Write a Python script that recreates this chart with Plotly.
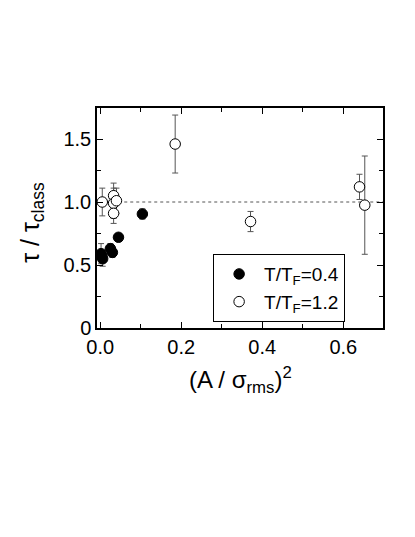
import plotly.graph_objects as go

# T/T_F = 0.4 (filled)
x_cold = [0.002, 0.006, 0.004, 0.025, 0.030, 0.045, 0.104]
y_cold = [0.59, 0.55, 0.57, 0.63, 0.60, 0.72, 0.905]
e_cold = [0.08, 0.06, 0.05, 0.04, 0.04, 0.03, 0.04]

# T/T_F = 1.2 (open)
x_hot = [0.005, 0.033, 0.033, 0.033, 0.040, 0.185, 0.371, 0.640, 0.653]
y_hot = [1.0, 1.05, 0.99, 0.91, 1.01, 1.46, 0.845, 1.12, 0.975]
e_hot = [0.11, 0.10, 0.12, 0.08, 0.10, 0.23, 0.08, 0.10, 0.39]

FONT = "Liberation Sans"

fig = go.Figure()

fig.add_shape(type="line", x0=0, x1=0.7, y0=1.0, y1=1.0, xref="x", yref="y",
              line=dict(color="#555", width=1, dash="dot"), layer="below")

err_style = dict(type="data", visible=True, color="#555", thickness=1, width=3)

fig.add_trace(go.Scatter(
    x=x_hot, y=y_hot, mode="markers", name="T/T<sub>F</sub>=1.2",
    error_y=dict(array=e_hot, **err_style),
    marker=dict(symbol="circle", size=10.5, color="white",
                line=dict(color="black", width=1))))

fig.add_trace(go.Scatter(
    x=x_cold, y=y_cold, mode="markers", name="T/T<sub>F</sub>=0.4",
    error_y=dict(array=e_cold, **err_style),
    marker=dict(symbol="circle", size=10.5, color="black",
                line=dict(color="black", width=1))))

axis_common = dict(showline=True, linecolor="black", linewidth=1.5,
                   ticks="inside", ticklen=6, tickwidth=1, tickcolor="black",
                   mirror="allticks", showgrid=False, zeroline=False,
                   tickfont=dict(family=FONT, size=20, color="black"))

fig.update_xaxes(range=[-0.008, 0.698], tickvals=[0, 0.2, 0.4, 0.6],
                 ticktext=["0.0", "0.2", "0.4", "0.6"],
                 minor=dict(dtick=0.1, tick0=0, ticks="inside", ticklen=4,
                            tickcolor="black"),
                 **axis_common)
fig.update_yaxes(range=[0, 1.746], tickvals=[0, 0.5, 1.0, 1.5],
                 ticktext=["0", "0.5", "1.0", "1.5"],
                 minor=dict(dtick=0.25, tick0=0, ticks="inside", ticklen=4,
                            tickcolor="black"),
                 **axis_common)

fig.update_layout(
    width=415, height=537,
    margin=dict(l=89, r=40, t=100, b=217),
    plot_bgcolor="white", paper_bgcolor="white",
    showlegend=True,
    legend=dict(x=0.406, y=0.336, xanchor="left", yanchor="top",
                traceorder="reversed",
                bordercolor="black", borderwidth=1, bgcolor="white",
                font=dict(family=FONT, size=19, color="black"),
                itemwidth=40, tracegroupgap=0),
    annotations=[
        dict(text="\u03c4 / \u03c4<sub>class</sub>", xref="paper", yref="paper",
             x=-0.226, y=0.48, textangle=-90, showarrow=False,
             xanchor="center", yanchor="middle",
             font=dict(family=FONT, size=25, color="black")),
        dict(text="(A / \u03c3<sub>rms</sub>)<sup>2</sup>", xref="paper", yref="paper",
             x=0.5, y=-0.236, showarrow=False,
             xanchor="center", yanchor="middle",
             font=dict(family=FONT, size=24, color="black")),
    ],
)

fig.write_html("out.html")
